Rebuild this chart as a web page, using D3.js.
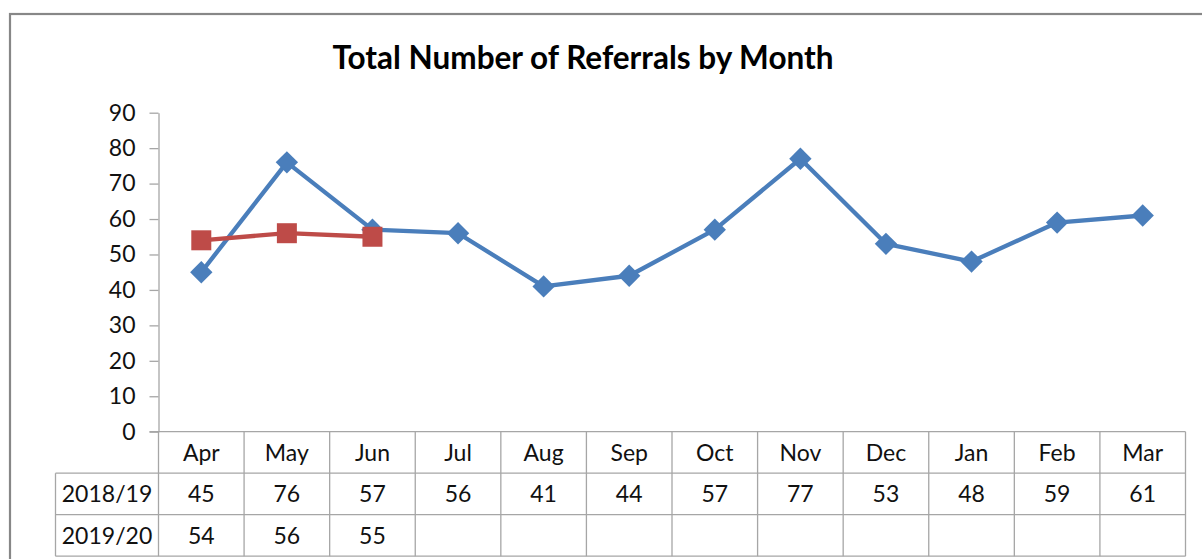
<!DOCTYPE html>
<html>
<head>
<meta charset="utf-8">
<script src="https://cdn.jsdelivr.net/npm/d3@7/dist/d3.min.js"></script>
<style>
  html, body { margin: 0; padding: 0; background: #fff; }
  svg { display: block; }
  text { font-family: Lato, "Open Sans", sans-serif; fill: #111; }
</style>
</head>
<body>
<svg id="chart" width="1202" height="559"></svg>
<script>
// Referral counts per month, financial year April–March
const months = ["Apr", "May", "Jun", "Jul", "Aug", "Sep", "Oct", "Nov", "Dec", "Jan", "Feb", "Mar"];
const seriesNames = ["2018/19", "2019/20"];
const values2018 = [45, 76, 57, 56, 41, 44, 57, 77, 53, 48, 59, 61];
const values2019 = [54, 56, 55];
const yTicks = [0, 10, 20, 30, 40, 50, 60, 70, 80, 90];
const titleText = "Total Number of Referrals by Month";

const series = [
  { name: seriesNames[0], values: values2018, color: "#4a7ebb", marker: "diamond" },
  { name: seriesNames[1], values: values2019, color: "#be4b48", marker: "square" }
];

const svg = d3.select("#chart");

// layout
const plotLeft = 158.5, plotRight = 1185.5, plotTop = 112.7, plotBottom = 431.7;
const rowH = 41.5;
const tableLeft = 55.5;
const gridColor = "#a6a6a6";
const labelSize = "23px";

// outer frame (continues past the window edges)
svg.append("rect")
  .attr("x", 10).attr("y", 14)
  .attr("width", 1240).attr("height", 600)
  .attr("fill", "none").attr("stroke", "#878787").attr("stroke-width", 2.2);

// title
svg.append("text")
  .attr("x", 583).attr("y", 69)
  .attr("text-anchor", "middle")
  .style("font-weight", "bold").style("font-size", "31.5px").style("fill", "#000")
  .text(titleText);

const x = d3.scaleBand().domain(months).range([plotLeft, plotRight]).padding(0);
const y = d3.scaleLinear().domain([0, 90]).range([plotBottom, plotTop]);

// y axis
const yAxis = d3.axisLeft(y).tickValues(yTicks).tickSize(9).tickPadding(14).tickSizeOuter(0);
const yg = svg.append("g").attr("transform", `translate(${plotLeft},0)`).call(yAxis);
yg.select(".domain").attr("stroke", gridColor).attr("stroke-width", 1.3);
yg.selectAll(".tick line").attr("stroke", gridColor).attr("stroke-width", 1.3);
yg.selectAll(".tick text").style("font-size", labelSize).style("font-family", "Lato, sans-serif").attr("fill", "#111");

// data table below the plot
const table = svg.append("g");
const tableBottom = plotBottom + rowH * 3;
// horizontal rules
table.append("line")
  .attr("x1", plotLeft - 9).attr("x2", plotRight)
  .attr("y1", plotBottom).attr("y2", plotBottom)
  .attr("stroke", gridColor).attr("stroke-width", 1.3);
[1, 2, 3].forEach(i => {
  table.append("line")
    .attr("x1", tableLeft).attr("x2", plotRight)
    .attr("y1", plotBottom + rowH * i).attr("y2", plotBottom + rowH * i)
    .attr("stroke", gridColor).attr("stroke-width", 1.3);
});
// vertical rules
const colEdges = months.map(m => x(m)).concat([plotRight]);
colEdges.forEach(cx => {
  table.append("line")
    .attr("x1", cx).attr("x2", cx)
    .attr("y1", plotBottom).attr("y2", tableBottom)
    .attr("stroke", gridColor).attr("stroke-width", 1.3);
});
table.append("line")
  .attr("x1", tableLeft).attr("x2", tableLeft)
  .attr("y1", plotBottom + rowH).attr("y2", tableBottom)
  .attr("stroke", gridColor).attr("stroke-width", 1.3);

// month headers
table.selectAll("text.month").data(months).join("text")
  .attr("class", "month")
  .attr("x", d => x(d) + x.bandwidth() / 2)
  .attr("y", plotBottom + rowH / 2)
  .attr("dy", "0.36em")
  .attr("text-anchor", "middle")
  .style("font-size", labelSize)
  .text(d => d);

// series rows
series.forEach((s, i) => {
  const rowMid = plotBottom + rowH * (i + 1) + rowH / 2;
  table.append("text")
    .attr("x", (tableLeft + plotLeft) / 2)
    .attr("y", rowMid).attr("dy", "0.36em")
    .attr("text-anchor", "middle")
    .style("font-size", labelSize)
    .text(s.name);
  table.selectAll(null).data(s.values).join("text")
    .attr("x", (d, j) => x(months[j]) + x.bandwidth() / 2)
    .attr("y", rowMid).attr("dy", "0.36em")
    .attr("text-anchor", "middle")
    .style("font-size", labelSize)
    .text(d => d);
});

// lines and markers
const line = d3.line()
  .x((d, j) => x(months[j]) + x.bandwidth() / 2)
  .y(d => y(d));

series.forEach(s => {
  const g = svg.append("g");
  g.append("path")
    .datum(s.values)
    .attr("d", line)
    .attr("fill", "none")
    .attr("stroke", s.color)
    .attr("stroke-width", 4.3)
    .attr("stroke-linejoin", "round")
    .attr("stroke-linecap", "round");
  const sym = s.marker === "diamond"
    ? d3.symbol().type(d3.symbolSquare).size(250)
    : d3.symbol().type(d3.symbolSquare).size(400);
  g.selectAll("path.marker").data(s.values).join("path")
    .attr("class", "marker")
    .attr("transform", (d, j) => `translate(${x(months[j]) + x.bandwidth() / 2},${y(d)})` + (s.marker === "diamond" ? " rotate(45)" : ""))
    .attr("d", sym)
    .attr("fill", s.color);
});
</script>
</body>
</html>
